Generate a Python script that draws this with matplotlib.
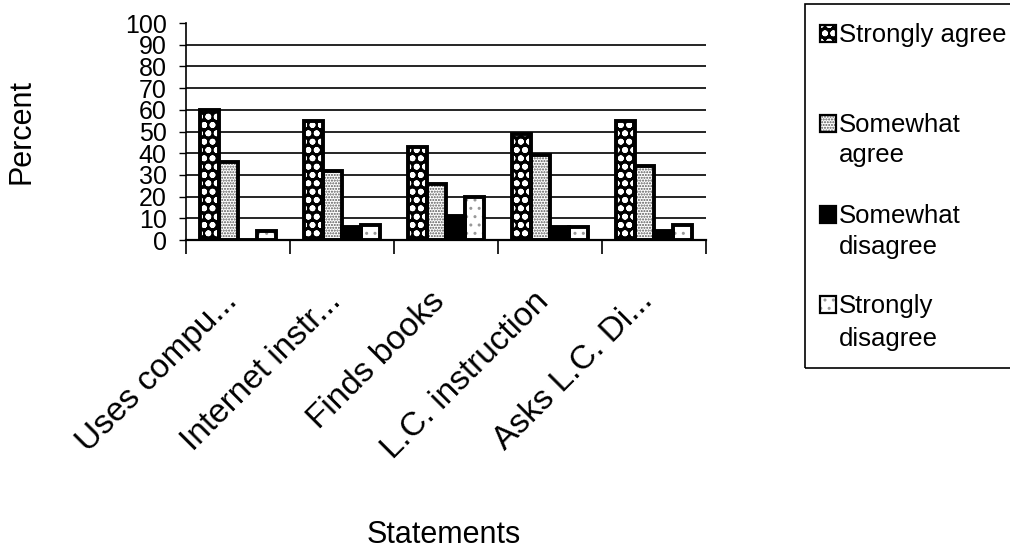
import matplotlib
matplotlib.use('Agg')
import matplotlib.pyplot as plt
import numpy as np
from matplotlib.patches import Rectangle
from matplotlib.ticker import FixedLocator, NullFormatter

# ---------------- data ----------------
categories = ['Uses compu...', 'Internet instr...', 'Finds books',
              'L.C. instruction', 'Asks L.C. Di...']
series_names = ['Strongly agree', 'Somewhat agree', 'Somewhat disagree', 'Strongly disagree']
strongly_agree = [60, 55, 43, 49, 55]
somewhat_agree = [36, 32, 26, 39, 34]
somewhat_disagree = [0, 6, 11, 6, 4]
strongly_disagree = [4, 7, 20, 6, 7]
legend_lines = [['Strongly agree'], ['Somewhat', 'agree'],
                ['Somewhat', 'disagree'], ['Strongly', 'disagree']]
yticks = list(range(0, 101, 10))
x_label = 'Statements'
y_label = 'Percent'

plt.rcParams['font.family'] = ['Liberation Sans', 'DejaVu Sans']

W, H = 1010, 551
fig = plt.figure(figsize=(W / 100, H / 100), dpi=100)
ax = fig.add_axes([186 / W, 1 - 240 / H, 520 / W, 217 / H])

series = [strongly_agree, somewhat_agree, somewhat_disagree, strongly_disagree]
styles = [
    dict(face='black', hatch='oo', hcolor='white', hlw=1.8),
    dict(face='white', hatch='......', hcolor='#555555', hlw=1.0),
    dict(face='black', hatch=None, hcolor='black', hlw=1.0),
    dict(face='white', hatch='..', hcolor='#999999', hlw=1.0),
]

n = len(categories)
x = np.arange(n)
w = 1 / 5.5

for j, (vals, st) in enumerate(zip(series, styles)):
    pos = x + (j - 1.5) * w
    with plt.rc_context({'hatch.linewidth': st['hlw']}):
        bars = ax.bar(pos, vals, w, color=st['face'], edgecolor=st['hcolor'],
                      hatch=st['hatch'], linewidth=0, zorder=2)
    for b in bars:
        try:
            b.set_hatch_linewidth(st['hlw'])
        except AttributeError:
            pass
    ax.bar(pos, vals, w, fill=False, edgecolor='black', linewidth=2.8, zorder=3)

# gridlines (10..90)
for yv in yticks[1:-1]:
    ax.axhline(yv, color='black', linewidth=1.2, zorder=1)

ax.set_ylim(0, 100)
ax.set_xlim(-0.5, n - 0.5)
ax.set_yticks(yticks)
ax.set_yticklabels([str(v) for v in yticks], fontsize=18)
ax.tick_params(axis='y', direction='out', length=5, width=1, pad=9)

ax.xaxis.set_major_locator(FixedLocator(np.arange(n + 1) - 0.5))
ax.xaxis.set_major_formatter(NullFormatter())
ax.set_xticks(x, minor=True)
ax.set_xticklabels(categories, minor=True, fontsize=24)
ax.tick_params(axis='x', which='major', direction='out', length=10, width=1.2)
ax.tick_params(axis='x', which='minor', length=0, pad=45)
for lab in ax.get_xticklabels(minor=True):
    lab.set_rotation(45)
    lab.set_ha('right')
    lab.set_va('baseline')
    lab.set_rotation_mode('anchor')

for s in ['top', 'right']:
    ax.spines[s].set_visible(False)
ax.spines['left'].set_linewidth(1.2)
ax.spines['bottom'].set_linewidth(1.6)

ax.set_ylabel(y_label, fontsize=22, va='center')
ax.yaxis.set_label_coords((22 - 186) / 520, (240 - 131) / 217)
ax.set_xlabel(x_label, fontsize=22, va='center')
ax.xaxis.set_label_coords((444 - 186) / 520, (240 - 535) / 217)

# ---------------- legend (drawn manually) ----------------
def fx(px):
    return px / W

def fy(py):
    return 1 - py / H

fig.patches.append(Rectangle((fx(805), fy(368)), fx(1015) - fx(805), fy(4) - fy(368),
                             transform=fig.transFigure, fill=False,
                             edgecolor='black', linewidth=1.2))
baselines = [[42], [132, 162], [223, 254], [313, 346]]
for st, lines, bl in zip(styles, legend_lines, baselines):
    top = bl[0] - 17
    with plt.rc_context({'hatch.linewidth': st['hlw']}):
        r = Rectangle((fx(820), fy(top + 17)), fx(836) - fx(820), fy(top) - fy(top + 17),
                      transform=fig.transFigure, facecolor=st['face'],
                      edgecolor=st['hcolor'], hatch=st['hatch'], linewidth=0)
    fig.patches.append(r)
    fig.patches.append(Rectangle((fx(820), fy(top + 17)), fx(836) - fx(820), fy(top) - fy(top + 17),
                                 transform=fig.transFigure, fill=False,
                                 edgecolor='black', linewidth=1.6))
    for line, b in zip(lines, bl):
        fig.text(fx(839), fy(b), line, fontsize=18.5, ha='left', va='baseline')

fig.savefig('out.png', dpi=100)
